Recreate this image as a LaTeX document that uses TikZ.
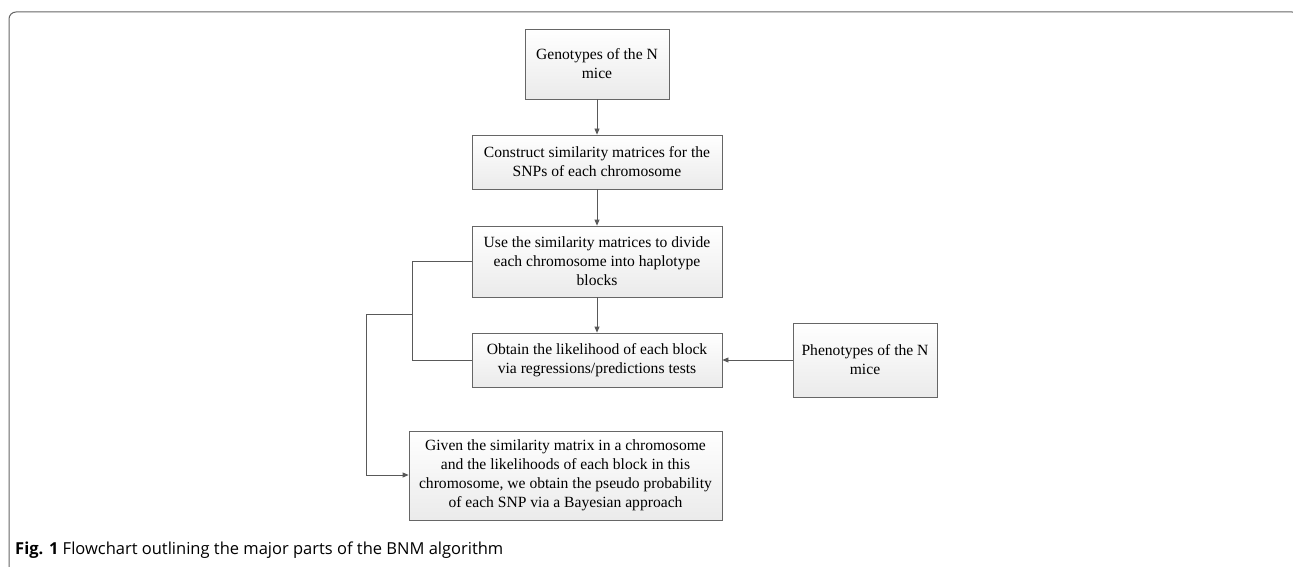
\documentclass[tikz,border=0pt]{standalone}
\usepackage{fontspec}
\setmainfont{Liberation Serif}
\newfontfamily\capfont{Open Sans}
\usetikzlibrary{arrows.meta,shadows}
\begin{document}
\begin{tikzpicture}[x=1pt,y=-1pt,
  flowbox/.style={draw=black!60, line width=0.8pt, top color=white, bottom color=black!8,
    drop shadow={shadow xshift=1.2pt, shadow yshift=-1.2pt, fill=black!25},
    align=center, inner sep=0pt, font=\fontsize{15.6}{19}\selectfont},
  conn/.style={draw=black!65, line width=0.8pt},
  arr/.style={conn, -{Triangle[length=6pt,width=5pt]}}]
\useasboundingbox (0,0) rectangle (1293,567);
\begin{scope}
\clip (0,0) rectangle (1293,567);
\draw[black!60, line width=1pt, rounded corners=7pt] (9,567) -- (9,12) -- (1299,12) -- (1299,567);
\end{scope}
\node[flowbox, minimum width=144pt, minimum height=70pt] (geno) at (597,64) {Genotypes of the N\\mice};
\node[flowbox, minimum width=250pt, minimum height=54pt] (cons) at (597,162) {Construct similarity matrices for the\\SNPs of each chromosome};
\node[flowbox, minimum width=250pt, minimum height=71pt] (use) at (597,261.5) {Use the similarity matrices to divide\\each chromosome into haplotype\\blocks};
\node[flowbox, minimum width=250pt, minimum height=54pt] (obt) at (597,360) {Obtain the likelihood of each block\\via regressions/predictions tests};
\node[flowbox, minimum width=144pt, minimum height=74pt] (pheno) at (865,360) {Phenotypes of the N\\mice};
\node[flowbox, minimum width=313pt, minimum height=89pt] (given) at (565.5,475.5) {Given the similarity matrix in a chromosome\\and the likelihoods of each block in this\\chromosome, we obtain the pseudo probability\\of each SNP via a Bayesian approach};
\coordinate (j1) at (412,261);
\coordinate (j2) at (412,360);
\coordinate (j3) at (412,314);
\coordinate (j4) at (366,314);
\coordinate (j5) at (366,475);
\draw[arr] (geno) -- (cons);
\draw[arr] (cons) -- (use);
\draw[arr] (use) -- (obt);
\draw[arr] (pheno) -- (obt);
\draw[conn] (use.west |- j1) -- (j1) -- (j2) -- (obt.west);
\draw[arr] (j3) -- (j4) -- (j5) -- (given.west |- j5);
\node[anchor=base west, inner sep=0pt, font=\capfont\fontsize{16.5}{20}\selectfont] (cap) at (15,554) {\textbf{Fig. 1} Flowchart outlining the major parts of the BNM algorithm};
\end{tikzpicture}
\end{document}
